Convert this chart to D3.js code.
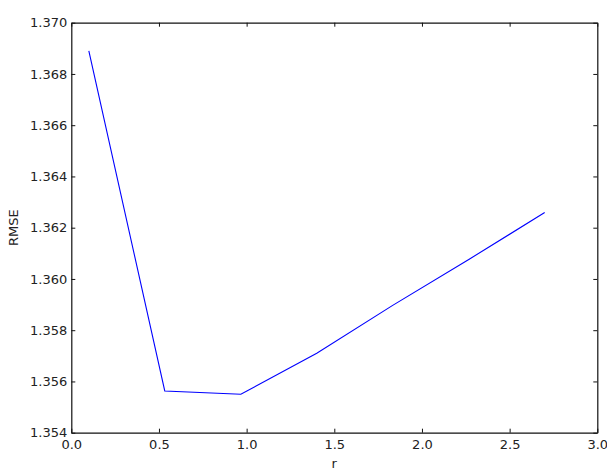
<!DOCTYPE html>
<html><head><meta charset="utf-8">
<script src="https://cdn.jsdelivr.net/npm/d3@7"></script>
<style>body{margin:0;background:#fff}svg{display:block}text{font-family:"DejaVu Sans",sans-serif;fill:#222}</style>
</head><body><svg id="c" width="607" height="474"></svg>
<script>
const rValues = [0.1, 0.533, 0.967, 1.4, 1.833, 2.267, 2.7];
const rmseValues = [1.36890, 1.35563, 1.35550, 1.35710, 1.35897, 1.36076, 1.36259];
const xTicks = [0.0, 0.5, 1.0, 1.5, 2.0, 2.5, 3.0];
const yTicks = [1.354, 1.356, 1.358, 1.360, 1.362, 1.364, 1.366, 1.368, 1.370];

const svg = d3.select("#c");
const L = 71.3, R = 597.3, T = 22.7, B = 432.7;
const x = d3.scaleLinear().domain([0, 3]).range([L, R]);
const y = d3.scaleLinear().domain([1.354, 1.370]).range([B, T]);
const tl = 4;

// line
svg.append("path")
  .datum(rValues.map((r, i) => [r, rmseValues[i]]))
  .attr("fill", "none").attr("stroke", "#0000ff").attr("stroke-width", 1.1)
  .attr("d", d3.line().x(d => x(d[0])).y(d => y(d[1])));

const fmtY = d3.format(".3f"), fmtX = d3.format(".1f");
// bottom axis
const bx = svg.append("g").attr("transform", `translate(0,${B})`)
  .call(d3.axisBottom(x).tickValues(xTicks).tickFormat(fmtX).tickSizeInner(-tl).tickSizeOuter(0).tickPadding(7));
const tx = svg.append("g").attr("transform", `translate(0,${T})`)
  .call(d3.axisTop(x).tickValues(xTicks).tickFormat("").tickSizeInner(-tl).tickSizeOuter(0));
const ly = svg.append("g").attr("transform", `translate(${L},0)`)
  .call(d3.axisLeft(y).tickValues(yTicks).tickFormat(fmtY).tickSizeInner(-tl).tickSizeOuter(0).tickPadding(4));
const ry = svg.append("g").attr("transform", `translate(${R},0)`)
  .call(d3.axisRight(y).tickValues(yTicks).tickFormat("").tickSizeInner(-tl).tickSizeOuter(0));
[bx, tx, ly, ry].forEach(g => {
  g.select(".domain").attr("stroke", "#111").attr("stroke-width", 1.2);
  g.selectAll(".tick line").attr("stroke", "#111").attr("stroke-width", 1);
  g.selectAll("text").attr("font-size", 13).attr("fill", "#333")
    .style("font-family", '"DejaVu Sans", sans-serif');
});

svg.append("text").attr("x", (L + R) / 2).attr("y", 468).attr("text-anchor", "middle")
  .attr("font-size", 13).attr("fill", "#333").text("r");
svg.append("text").attr("transform", `translate(18,${(T + B) / 2}) rotate(-90)`)
  .attr("text-anchor", "middle").attr("font-size", 13).attr("fill", "#333").text("RMSE");
</script></body></html>
